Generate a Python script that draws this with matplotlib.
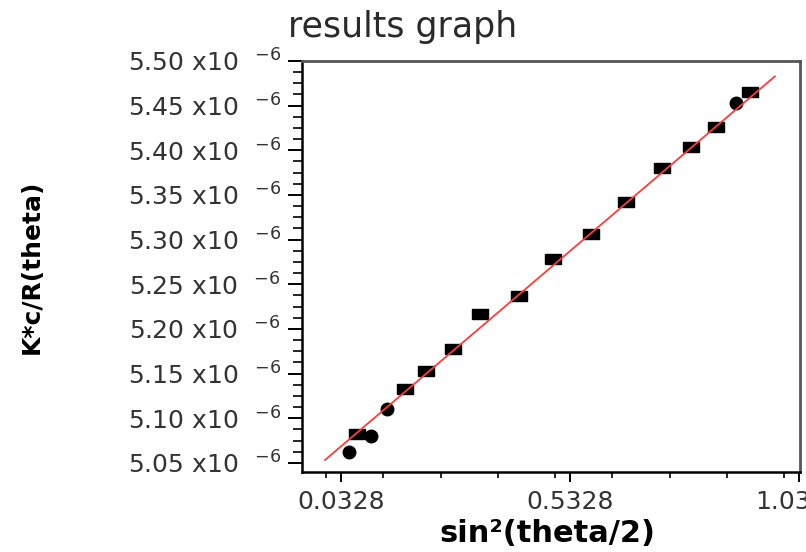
import numpy as np
import matplotlib
matplotlib.use("Agg")
import matplotlib.pyplot as plt
from matplotlib.ticker import FixedLocator, MultipleLocator, AutoMinorLocator, FuncFormatter

# sin^2(theta/2) and K*c/R(theta) (in units of 1e-6)
sq_x = [0.068, 0.172, 0.218, 0.277, 0.336, 0.421, 0.496, 0.579, 0.655, 0.734, 0.796, 0.852, 0.926]
sq_y = [5.083, 5.133, 5.153, 5.178, 5.217, 5.237, 5.278, 5.306, 5.342, 5.380, 5.404, 5.426, 5.465]
circ_x = [0.050, 0.098, 0.133, 0.895]
circ_y = [5.062, 5.080, 5.110, 5.453]

# straight-line fit drawn over the data
fit_slope = 0.4372
fit_intercept = 5.0543
fit_range = [-0.002, 0.980]

x_ticks = [0.0328, 0.5328, 1.0328]

plt.rcParams['font.family'] = ['DejaVu Sans']

fig = plt.figure(figsize=(8.06, 5.52), dpi=100)
ax = fig.add_axes([0.3747, 0.1449, 0.6179, 0.7446])

fx = np.array(fit_range)
ax.plot(fx, fit_intercept + fit_slope * fx, color='#ff3b3b', lw=1.3, zorder=3)

# wide rectangular markers
rect = [(-1, -0.56), (1, -0.56), (1, 0.56), (-1, 0.56), (-1, -0.56)]
ax.plot(sq_x, sq_y, ls='none', marker=rect, ms=12, color='black', zorder=2)
ax.plot(circ_x, circ_y, ls='none', marker='o', ms=9, color='black', zorder=2)

ax.set_xlim(-0.0524, 1.035)
ax.set_ylim(5.0399, 5.50)

ax.xaxis.set_major_locator(FixedLocator(x_ticks))
ax.xaxis.set_minor_locator(MultipleLocator(0.125))
ax.xaxis.set_major_formatter(FuncFormatter(lambda v, p: f"{v:.4f}"))
ax.yaxis.set_major_locator(MultipleLocator(0.05))
ax.yaxis.set_minor_locator(AutoMinorLocator(4))
ax.yaxis.set_major_formatter(FuncFormatter(lambda v, p: f"{v:.2f} x10  $^{{-6}}$"))

ax.tick_params(axis='both', which='major', labelsize=18, labelcolor='#333333', width=1.4)
ax.tick_params(axis='y', which='major', length=10, pad=5)
ax.tick_params(axis='y', which='minor', length=6.5, width=1.2)
ax.tick_params(axis='x', which='major', length=7, pad=6)
ax.tick_params(axis='x', which='minor', length=4.5, width=1.2)

for side in ['left', 'bottom']:
    ax.spines[side].set_linewidth(1.8)
    ax.spines[side].set_color('black')
for side in ['top', 'right']:
    ax.spines[side].set_linewidth(2.0)
    ax.spines[side].set_color('#555555')

fig.text(0.499, 0.951, "results graph", fontsize=25, color='#2a2a2a',
         ha='center', va='center')
fig.text(0.0397, 0.516, "K*c/R(theta)", rotation=90, fontsize=18,
         fontweight='bold', ha='center', va='center')
fig.text(0.679, 0.034, "sin²(theta/2)", fontsize=22, fontweight='bold',
         ha='center', va='center')

fig.savefig("out.png", dpi=100)
